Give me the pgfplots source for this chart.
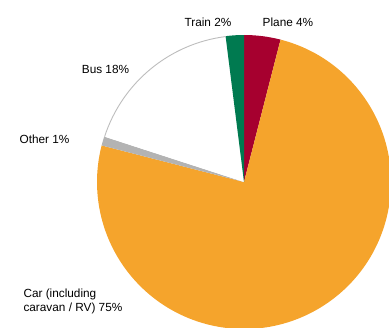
\documentclass[border=0pt]{standalone}
\usepackage{pgfplots}
\pgfplotsset{compat=1.18}
\usepackage{fontspec}
\setmainfont{Liberation Sans}
\definecolor{carO}{HTML}{F5A42C}
\definecolor{planeR}{HTML}{A6002F}
\definecolor{trainG}{HTML}{007A50}
\definecolor{otherG}{HTML}{B3B3B3}
\definecolor{busE}{HTML}{BDBDBD}
% slice: start percentage, percentage, style
\newcommand{\slice}[3]{%
  \fill[#3] (axis cs:244,146) -- ++({90-3.6*(#1)}:147bp)
    arc[start angle={90-3.6*(#1)}, end angle={90-3.6*((#1)+(#2))}, radius=147bp] -- cycle;}
\begin{document}
\begin{tikzpicture}
\begin{axis}[
  x=1bp, y=1bp, xmin=0, xmax=389, ymin=0, ymax=328,
  scale only axis, hide axis, clip=true,
  font=\fontsize{11.8bp}{13.5bp}\selectfont,
]
% percentages: Plane 4, Car 75, Other 1, Bus 18, Train 2 (clockwise from top)
\slice{0}{4}{planeR}
\slice{4}{75}{carO}
\slice{79}{1}{otherG}
\slice{80}{18}{white}
\slice{98}{2}{trainG}
\draw[busE, line width=0.9bp] (axis cs:244,146) ++({90-3.6*80}:146.6bp)
   arc[start angle={90-3.6*80}, end angle={90-3.6*98}, radius=146.6bp];
\node at (axis cs:208,305.5) {Train 2\%};
\node at (axis cs:288,305.5) {Plane 4\%};
\node at (axis cs:105.5,259) {Bus 18\%};
\node at (axis cs:44.5,189) {Other 1\%};
\node[align=left, anchor=west] at (axis cs:20,26.5) {Car (including\\caravan / RV) 75\%};
\coordinate (LL) at (axis cs:0,0);
\coordinate (UR) at (axis cs:389,328);
\end{axis}
\pgfresetboundingbox
\path[use as bounding box] (LL) rectangle (UR);
\end{tikzpicture}
\end{document}
